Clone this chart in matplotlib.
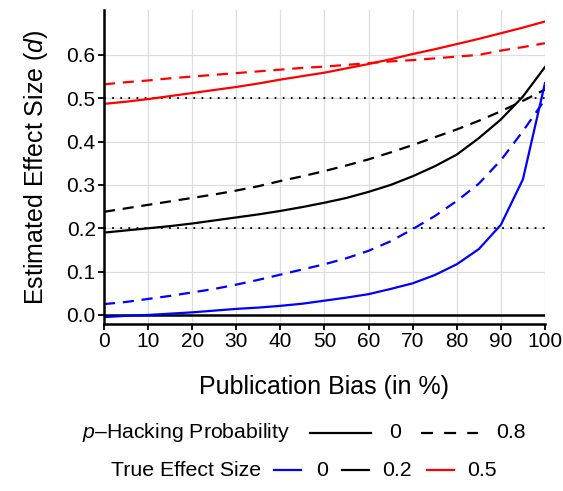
import numpy as np
import matplotlib.pyplot as plt
from matplotlib.lines import Line2D

plt.rcParams['font.family'] = ['Liberation Sans', 'DejaVu Sans']
plt.rcParams['mathtext.fontset'] = 'custom'
plt.rcParams['mathtext.it'] = 'Liberation Sans:italic'
plt.rcParams['mathtext.rm'] = 'Liberation Sans'

# publication bias (%)
bias = np.arange(0, 101, 5)

# true effect 0
blue_solid = [-0.005, -0.002, 0.000, 0.003, 0.006, 0.010, 0.014, 0.017, 0.021, 0.026, 0.033,
              0.040, 0.048, 0.060, 0.073, 0.092, 0.117, 0.152, 0.208, 0.313, 0.535]
blue_dash = [0.025, 0.030, 0.037, 0.044, 0.052, 0.060, 0.070, 0.081, 0.093, 0.105, 0.117,
             0.131, 0.148, 0.170, 0.198, 0.228, 0.263, 0.303, 0.357, 0.424, 0.497]
# true effect 0.2
black_solid = [0.190, 0.195, 0.200, 0.205, 0.211, 0.218, 0.225, 0.232, 0.240, 0.249, 0.259,
               0.270, 0.284, 0.300, 0.320, 0.343, 0.370, 0.408, 0.451, 0.504, 0.572]
black_dash = [0.238, 0.246, 0.254, 0.262, 0.270, 0.278, 0.287, 0.297, 0.309, 0.320, 0.332,
              0.345, 0.359, 0.375, 0.392, 0.410, 0.428, 0.448, 0.470, 0.494, 0.520]
# true effect 0.5
red_solid = [0.487, 0.492, 0.498, 0.505, 0.512, 0.519, 0.526, 0.534, 0.543, 0.551, 0.559,
             0.569, 0.579, 0.590, 0.602, 0.613, 0.625, 0.637, 0.650, 0.663, 0.677]
red_dash = [0.532, 0.537, 0.541, 0.546, 0.550, 0.554, 0.558, 0.562, 0.566, 0.570, 0.573,
            0.577, 0.581, 0.585, 0.588, 0.592, 0.596, 0.600, 0.610, 0.618, 0.627]

fig = plt.figure(figsize=(5.63, 4.91), dpi=100)
ax = fig.add_axes([0.1847, 0.340, 0.7833, 0.640])

dash = (0, (5, 3.5))
lw = 1.6
ax.plot(bias, red_solid, color='#ff0000', lw=lw)
ax.plot(bias, red_dash, color='#ff0000', lw=lw, linestyle=dash)
ax.plot(bias, black_solid, color='black', lw=lw)
ax.plot(bias, black_dash, color='black', lw=lw, linestyle=dash)
ax.plot(bias, blue_solid, color='#0000ff', lw=lw)
ax.plot(bias, blue_dash, color='#0000ff', lw=lw, linestyle=dash)

ax.axhline(0, color='black', lw=1.8, zorder=1)
for h in [0.2, 0.5]:
    ax.axhline(h, color='black', lw=1.3, linestyle=(0, (1, 3.5)), zorder=1)

ax.set_xlim(0, 100)
ax.set_ylim(-0.021, 0.704)
ax.set_xticks(np.arange(0, 101, 10))
ax.set_yticks(np.arange(0, 0.61, 0.1))
ax.set_yticklabels(['0.0', '0.1', '0.2', '0.3', '0.4', '0.5', '0.6'])
ax.grid(color='#dddddd', lw=0.9, zorder=0)
ax.set_axisbelow(True)
for s in ['top', 'right']:
    ax.spines[s].set_visible(False)
for s in ['left', 'bottom']:
    ax.spines[s].set_linewidth(1.8)
ax.tick_params(labelsize=15, length=4, width=1.3, color='black', pad=2)

ax.set_xlabel('Publication Bias (in %)', fontsize=18, labelpad=17)
ax.set_ylabel(r'Estimated Effect Size ($\it{d}$)', fontsize=18, labelpad=12)

# legends drawn below
def seg(x0, x1, y, **kw):
    fig.add_artist(Line2D([x0 / 563, x1 / 563], [1 - y / 491, 1 - y / 491], **kw))

def txt(x, y, s, ha='left'):
    fig.text(x / 563, 1 - y / 491, s, fontsize=15.3, ha=ha, va='center')

y1 = 433
txt(82, y1, r'$\it{p}$–Hacking Probability')
seg(310, 371, y1, color='black', lw=lw)
txt(389, y1, '0')
seg(421, 478, y1, color='black', lw=lw, linestyle=(0, (5.4, 5)))
txt(496, y1, '0.8')

y2 = 470
txt(111, y2, 'True Effect Size')
seg(274, 301, y2, color='#0000ff', lw=lw)
txt(316, y2, '0')
seg(342, 369, y2, color='black', lw=lw)
txt(382, y2, '0.2')
seg(427, 454, y2, color='#ff0000', lw=lw)
txt(467, y2, '0.5')

fig.savefig('out.png', dpi=100)
